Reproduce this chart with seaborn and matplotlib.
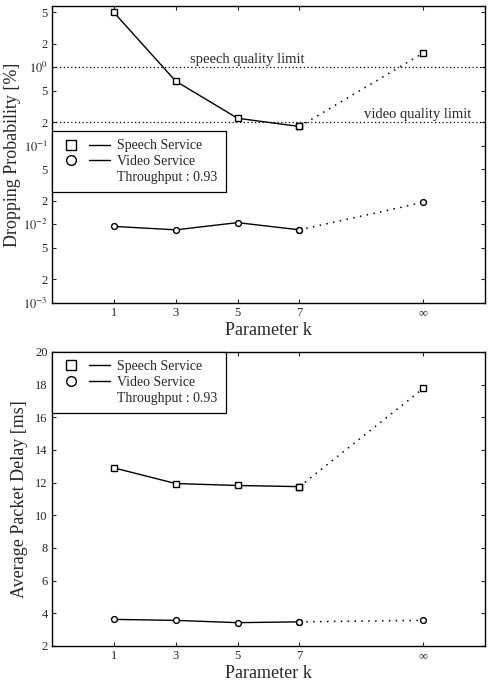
import matplotlib
matplotlib.use("Agg")
import matplotlib.pyplot as plt
from matplotlib.lines import Line2D
from matplotlib.legend_handler import HandlerTuple
import seaborn as sns
import numpy as np
import pandas as pd

# x positions of parameter k (last one stands for k = infinity)
k_pos = [1, 3, 5, 7, 11]
k_labels = ["1", "3", "5", "7", "\u221e"]

# dropping probability [%]
speech_drop = [5.0, 0.665, 0.224, 0.176, 1.52]
video_drop = [0.0094, 0.0085, 0.0105, 0.0085, 0.019]

# average packet delay [ms]
speech_delay = [12.9, 11.94, 11.82, 11.75, 17.76]
video_delay = [3.62, 3.56, 3.42, 3.47, 3.56]

speech_limit = 1.0
video_limit = 0.2

drop_ticks = [1e-3, 2e-3, 5e-3, 1e-2, 2e-2, 5e-2, 1e-1, 2e-1, 5e-1, 1.0, 2.0, 5.0]
drop_ticklabels = ["$10^{-3}$", "2", "5", "$10^{-2}$", "2", "5",
                   "$10^{-1}$", "2", "5", "$10^{0}$", "2", "5"]
delay_ticks = [2, 4, 6, 8, 10, 12, 14, 16, 18, 20]

sns.set_style("ticks")
plt.rcParams['font.family'] = ['Liberation Serif', 'DejaVu Serif']
plt.rcParams['mathtext.fontset'] = 'stix'
plt.rcParams['xtick.direction'] = 'in'
plt.rcParams['ytick.direction'] = 'in'
plt.rcParams['xtick.top'] = True
plt.rcParams['ytick.right'] = True


def make_df(speech, video):
    rows = []
    for name, vals in [("Speech", speech), ("Video", video)]:
        for i, (k, v) in enumerate(zip(k_pos, vals)):
            if i <= 3:
                rows.append({"k": k, "value": v, "service": name, "part": "solid"})
            if i >= 3:
                rows.append({"k": k, "value": v, "service": name, "part": "dotted"})
    return pd.DataFrame(rows)


def draw_series(ax, df):
    markers = {"Speech": ("s", 5), "Video": ("o", 4.2)}
    for name in ["Speech", "Video"]:
        m, ms = markers[name]
        # dotted part to k = infinity
        d = df[(df["service"] == name) & (df["part"] == "dotted")]
        sns.lineplot(data=d, x="k", y="value", ax=ax, color="black", lw=1.1,
                     linestyle=(0, (1, 3.5)), marker=m, markersize=ms,
                     markerfacecolor="white", markeredgecolor="black",
                     markeredgewidth=1.0, sort=False)
        # solid part k = 1..7
        s = df[(df["service"] == name) & (df["part"] == "solid")]
        sns.lineplot(data=s, x="k", y="value", ax=ax, color="black", lw=1.0,
                     marker=m, markersize=ms, markerfacecolor="white",
                     markeredgecolor="black", markeredgewidth=1.0, sort=False)


def add_legend(ax, anchor):
    sq = Line2D([], [], marker="s", ms=7.5, mfc="white", mec="black", mew=1.0, ls="none")
    ci = Line2D([], [], marker="o", ms=7, mfc="white", mec="black", mew=1.0, ls="none")
    ln = Line2D([], [], color="black", lw=1.0)
    blank = Line2D([], [], ls="none")
    leg = ax.legend([(sq, ln), (ci, ln), blank],
                    ["Speech Service", "Video Service", "Throughput : 0.93"],
                    handler_map={tuple: HandlerTuple(ndivide=None, pad=0.5)},
                    loc="upper left", bbox_to_anchor=anchor, borderaxespad=0,
                    fontsize=10, handlelength=3.6, handletextpad=0.5,
                    labelspacing=0.2, borderpad=0.6, fancybox=False,
                    framealpha=1, edgecolor="black")
    leg.get_frame().set_linewidth(0.9)


fig = plt.figure(figsize=(4.9, 6.82), dpi=100)
ax1 = fig.add_axes([0.106, 0.556, 0.884, 0.435])
ax2 = fig.add_axes([0.106, 0.053, 0.884, 0.431])

# top panel: dropping probability
df_drop = make_df(speech_drop, video_drop)
ax1.set_yscale("log")
ax1.axhline(speech_limit, color="black", lw=0.9, ls=(0, (1, 2)))
ax1.axhline(video_limit, color="black", lw=0.9, ls=(0, (1, 2)))
ax1.text(3.45, speech_limit * 1.04, "speech quality limit", fontsize=10.5,
         ha="left", va="bottom")
ax1.text(9.1, video_limit * 1.04, "video quality limit", fontsize=10.5,
         ha="left", va="bottom")
draw_series(ax1, df_drop)
ax1.set_ylim(1e-3, 6)
ax1.set_yticks(drop_ticks)
ax1.set_yticklabels(drop_ticklabels)
ax1.minorticks_off()
ax1.set_ylabel("Dropping Probability [%]", fontsize=13, labelpad=1)
add_legend(ax1, (0, 0.579))

# bottom panel: average packet delay
df_delay = make_df(speech_delay, video_delay)
draw_series(ax2, df_delay)
ax2.set_ylim(2, 20)
ax2.set_yticks(delay_ticks)
ax2.set_ylabel("Average Packet Delay [ms]", fontsize=13, labelpad=5)
add_legend(ax2, (0, 1))

for ax in [ax1, ax2]:
    ax.set_xlim(-1, 13)
    ax.set_xticks(k_pos)
    ax.set_xticklabels(k_labels)
    ax.set_xlabel("Parameter k", fontsize=13, labelpad=2)
    ax.tick_params(axis="both", labelsize=9, length=3, width=0.8, pad=3)
    for sp in ax.spines.values():
        sp.set_linewidth(1.0)
        sp.set_color("black")

fig.savefig("out.png", dpi=100)
